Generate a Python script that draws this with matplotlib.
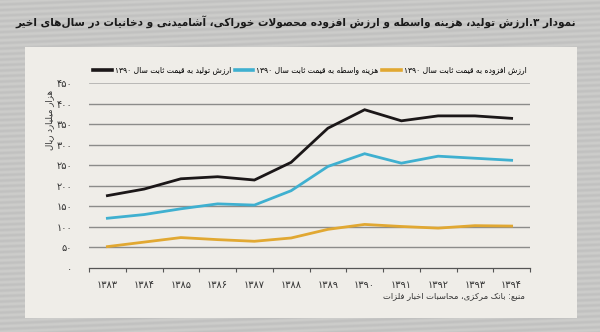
import re
import numpy as np
import matplotlib
matplotlib.use("Agg")
import matplotlib.pyplot as plt
from matplotlib.patches import Rectangle
from matplotlib.lines import Line2D

# ---- data (thousand billion rials, constant 1390 prices) ----
years = [1383, 1384, 1385, 1386, 1387, 1388, 1389, 1390, 1391, 1392, 1393, 1394]
production = [176, 192, 217, 222, 214, 257, 340, 385, 358, 370, 370, 364]
intermediate = [121, 130, 144, 156, 153, 188, 247, 278, 255, 272, 267, 262]
value_added = [52, 63, 74, 69, 65, 73, 94, 106, 101, 97, 103, 102]
y_ticks = [0, 50, 100, 150, 200, 250, 300, 350, 400, 450]

title = "نمودار ۳.ارزش تولید، هزینه واسطه و ارزش افزوده محصولات خوراکی، آشامیدنی و دخانیات در سال\u200cهای اخیر"
series_labels = [
    "ارزش تولید به قیمت ثابت سال ۱۳۹۰",
    "هزینه واسطه به قیمت ثابت سال ۱۳۹۰",
    "ارزش افزوده به قیمت ثابت سال ۱۳۹۰",
]
y_label = "هزار میلیارد ریال"
source = "منبع: بانک مرکزی، محاسبات اخبار فلزات"

# ---- minimal Persian shaping + right-to-left ordering ----
FA_DIGITS = str.maketrans("0123456789", "۰۱۲۳۴۵۶۷۸۹")
FORMS = {  # isolated, final, initial, medial
    "ا": ("\uFE8D", "\uFE8E", None, None),
    "آ": ("\uFE81", "\uFE82", None, None),
    "ب": ("\uFE8F", "\uFE90", "\uFE91", "\uFE92"),
    "ت": ("\uFE95", "\uFE96", "\uFE97", "\uFE98"),
    "ث": ("\uFE99", "\uFE9A", "\uFE9B", "\uFE9C"),
    "ح": ("\uFEA1", "\uFEA2", "\uFEA3", "\uFEA4"),
    "خ": ("\uFEA5", "\uFEA6", "\uFEA7", "\uFEA8"),
    "د": ("\uFEA9", "\uFEAA", None, None),
    "ر": ("\uFEAD", "\uFEAE", None, None),
    "ز": ("\uFEAF", "\uFEB0", None, None),
    "س": ("\uFEB1", "\uFEB2", "\uFEB3", "\uFEB4"),
    "ش": ("\uFEB5", "\uFEB6", "\uFEB7", "\uFEB8"),
    "ص": ("\uFEB9", "\uFEBA", "\uFEBB", "\uFEBC"),
    "ط": ("\uFEC1", "\uFEC2", "\uFEC3", "\uFEC4"),
    "ع": ("\uFEC9", "\uFECA", "\uFECB", "\uFECC"),
    "ف": ("\uFED1", "\uFED2", "\uFED3", "\uFED4"),
    "ق": ("\uFED5", "\uFED6", "\uFED7", "\uFED8"),
    "ل": ("\uFEDD", "\uFEDE", "\uFEDF", "\uFEE0"),
    "م": ("\uFEE1", "\uFEE2", "\uFEE3", "\uFEE4"),
    "ن": ("\uFEE5", "\uFEE6", "\uFEE7", "\uFEE8"),
    "ه": ("\uFEE9", "\uFEEA", "\uFEEB", "\uFEEC"),
    "و": ("\uFEED", "\uFEEE", None, None),
    "ی": ("\uFBFC", "\uFBFD", "\uFBFE", "\uFBFF"),
    "ک": ("\uFB8E", "\uFB8F", "\uFB90", "\uFB91"),
}
LAM_ALEF = ("\uFEFB", "\uFEFC")


def shape(text):
    out = []
    prev_joins = False
    i, n = 0, len(text)
    while i < n:
        c = text[i]
        if c not in FORMS:
            if c != "\u200c":
                out.append(c)
            prev_joins = False
            i += 1
            continue
        if c == "ل" and i + 1 < n and text[i + 1] == "ا":
            out.append(LAM_ALEF[1] if prev_joins else LAM_ALEF[0])
            prev_joins = False
            i += 2
            continue
        nxt = text[i + 1] if i + 1 < n else None
        iso, fin, ini, med = FORMS[c]
        joins_next = ini is not None and nxt in FORMS
        if prev_joins and joins_next:
            g = med
        elif prev_joins:
            g = fin
        elif joins_next:
            g = ini
        else:
            g = iso
        out.append(g)
        prev_joins = joins_next
        i += 1
    return "".join(out)


def fa(text):
    s = shape(str(text).translate(FA_DIGITS))
    parts = re.findall(r"[۰-۹]+|[^۰-۹]+", s)
    return "".join(p if p[0] in "۰۱۲۳۴۵۶۷۸۹" else p[::-1] for p in reversed(parts))


plt.rcParams["font.family"] = ["DejaVu Sans"]

W, H = 600, 332
fig = plt.figure(figsize=(W / 100, H / 100), dpi=100, facecolor="#c7c7c5")

# faintly striped grey paper backdrop
bg = fig.add_axes([0, 0, 1, 1], zorder=-10)
yy, xx = np.mgrid[0:H, 0:W]
stripes = 0.5 + 0.5 * np.sin(2 * np.pi * (yy + 0.04 * xx) / 5.5)
bg.imshow(stripes, cmap=matplotlib.colors.LinearSegmentedColormap.from_list(
    "paper", ["#c1c1c0", "#cdcdcb"]), aspect="auto", interpolation="bilinear")
bg.set_axis_off()

# light sheet behind the chart
fig.patches.append(Rectangle((25 / W, 1 - 318 / H), 552 / W, 271 / H,
                             transform=fig.transFigure, facecolor="#efede8",
                             edgecolor="none", zorder=-5))

ax = fig.add_axes([89 / W, 64 / H, 441 / W, 185 / H])
ax.set_facecolor("none")

x = list(range(len(years)))
colors = ["#1b1718", "#3fb0d0", "#e1a832"]
for vals, col in zip([production, intermediate, value_added], colors):
    ax.plot(x, vals, color=col, lw=2.0, solid_joinstyle="miter", zorder=3)

ax.set_xlim(-0.5, len(years) - 0.5)
ax.set_ylim(0, 450)
ax.set_yticks(y_ticks)
ax.set_yticklabels([fa(v) for v in y_ticks], fontsize=7, color="#333333")
ax.yaxis.grid(True, color="#8c8c8a", lw=1.0)
ax.get_ygridlines()[-1].set_linewidth(0.6)
ax.get_ygridlines()[-1].set_color("#b0b0ae")
ax.get_ygridlines()[0].set_visible(False)
ax.tick_params(axis="y", length=0, pad=12)

ax.set_xticks(x)
ax.set_xticklabels([fa(y) for y in years], fontsize=7, color="#333333")
ax.set_xticks([i - 0.5 for i in range(len(years) + 1)], minor=True)
ax.tick_params(axis="x", which="major", length=0, pad=9)
ax.tick_params(axis="x", which="minor", length=3, width=0.8, color="#555555")

for side in ["top", "right", "left"]:
    ax.spines[side].set_visible(False)
ax.spines["bottom"].set_color("#555555")
ax.spines["bottom"].set_linewidth(0.9)

handles = [Line2D([], [], color=c, lw=2.6) for c in colors]
fig.legend(handles, [fa(s) for s in series_labels], ncol=3, loc="center",
           bbox_to_anchor=(310 / W, 1 - 70 / H), frameon=False, fontsize=5.5,
           handlelength=2.4, handletextpad=0.4, columnspacing=0.5)

fig.text(50 / W, 1 - 120 / H, fa(y_label), rotation=90, ha="center", va="center",
         fontsize=6.2, color="#333333")
fig.text(576 / W, 1 - 22 / H, fa(title), ha="right", va="center",
         fontsize=7.6, fontweight="bold", color="#1a1a1a")
fig.text(525 / W, 1 - 296 / H, fa(source), ha="right", va="center",
         fontsize=6, color="#333333")

fig.savefig("out.png", dpi=100, facecolor=fig.get_facecolor())
